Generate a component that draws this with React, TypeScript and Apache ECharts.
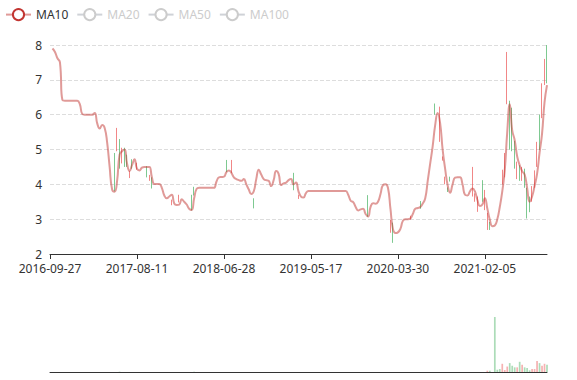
import React, { useEffect, useRef } from 'react';
import * as echarts from 'echarts';

// Dates shown under the x axis (one every 35 points)
const tickDates = ['2016-09-27', '2017-08-11', '2018-06-28', '2019-05-17', '2020-03-30', '2021-02-05'];
const pointsPerTick = 35;
const pointCount = 201;

// MA10
const ma10: (number | string)[] = [
  '-', 7.9, 7.8, 7.62, 7.5, 6.42, 6.4, 6.4, 6.4, 6.4,
  6.4, 6.4, 6.3, 6.02, 6.0, 6.0, 6.0, 6.0, 6.05, 5.75,
  5.6, 5.7, 5.62, 5.2, 4.5, 3.85, 3.79, 4.1, 4.85, 4.95,
  5.0, 4.6, 4.38, 4.55, 4.72, 4.45, 4.4, 4.48, 4.5, 4.5,
  4.5, 4.2, 4.01, 4.01, 4.01, 3.9, 3.68, 3.6, 3.65, 3.7,
  3.45, 3.41, 3.42, 3.57, 3.5, 3.42, 3.3, 3.26, 3.6, 3.87,
  3.9, 3.9, 3.9, 3.9, 3.9, 3.9, 3.9, 4.08, 4.2, 4.21,
  4.22, 4.35, 4.4, 4.33, 4.2, 4.15, 4.12, 4.1, 4.15, 4.0,
  3.85, 3.72, 3.8, 4.15, 4.42, 4.28, 4.15, 4.12, 4.1, 3.95,
  4.12, 4.38, 4.3, 3.98, 4.03, 4.05, 4.12, 4.15, 4.0, 4.05,
  3.8, 3.65, 3.62, 3.75, 3.81, 3.81, 3.81, 3.81, 3.81, 3.81,
  3.81, 3.81, 3.81, 3.81, 3.81, 3.81, 3.81, 3.81, 3.81, 3.81,
  3.7, 3.53, 3.49, 3.35, 3.25, 3.28, 3.3, 3.15, 3.08, 3.35,
  3.46, 3.44, 3.5, 3.72, 3.98, 4.0, 3.9, 3.3, 2.72, 2.6,
  2.62, 2.72, 2.95, 3.0, 3.0, 3.02, 3.15, 3.3, 3.32, 3.35,
  3.45, 3.6, 4.1, 4.6, 5.1, 5.7, 6.05, 5.75, 5.0, 4.45,
  3.98, 3.76, 4.0, 4.19, 4.2, 4.2, 4.0, 3.7, 3.68, 3.8,
  3.88, 3.8, 3.55, 3.38, 3.42, 3.6, 3.3, 2.98, 2.8, 2.82,
  3.0, 3.35, 3.8, 4.4, 5.5, 6.3, 5.55, 5.27, 4.8, 4.55,
  4.38, 4.28, 3.9, 3.5, 3.65, 3.95, 4.3, 4.9, 5.45, 6.35,
  6.85,
];

// Visible candles: [index, open, close, low, high]
const candles: number[][] = [
  [26, 4.5, 3.95, 3.8, 4.9], [27, 5.0, 5.3, 4.95, 5.62], [28, 5.2, 4.55, 4.45, 5.3],
  [29, 4.7, 4.95, 4.6, 5.05], [30, 5.0, 4.55, 4.5, 5.05], [31, 4.8, 4.55, 4.5, 4.85],
  [32, 4.2, 4.35, 4.18, 4.38], [33, 4.7, 4.5, 4.45, 4.72], [35, 4.45, 4.6, 4.42, 4.62],
  [39, 4.5, 4.25, 4.2, 4.52], [40, 4.12, 4.25, 4.1, 4.27], [41, 4.15, 3.92, 3.88, 4.2],
  [49, 3.42, 3.55, 3.4, 3.56], [52, 3.5, 3.68, 3.48, 3.7], [57, 3.65, 3.3, 3.25, 3.7],
  [58, 3.9, 3.7, 3.68, 3.93], [71, 4.45, 4.38, 4.35, 4.7], [73, 4.5, 4.7, 4.32, 4.7],
  [82, 3.55, 3.35, 3.31, 3.6], [98, 4.3, 3.85, 3.83, 4.33], [100, 3.6, 3.69, 3.58, 3.7],
  [128, 3.6, 3.1, 3.07, 3.69], [137, 2.65, 2.95, 2.61, 2.98], [138, 2.85, 2.5, 2.32, 2.9],
  [145, 3.0, 3.08, 2.99, 3.1], [149, 3.5, 3.33, 3.3, 3.52], [155, 6.3, 6.05, 6.0, 6.32],
  [157, 5.3, 6.15, 5.22, 6.23], [158, 4.7, 4.8, 4.68, 4.8], [159, 4.03, 4.22, 4.0, 4.22],
  [160, 3.9, 3.8, 3.78, 3.91], [161, 4.22, 4.1, 4.08, 4.22], [170, 3.7, 3.9, 3.65, 4.5],
  [171, 3.5, 3.74, 3.5, 3.74], [172, 3.3, 3.6, 3.21, 3.65], [174, 4.1, 3.55, 3.5, 4.12],
  [175, 3.3, 3.8, 3.26, 3.84], [176, 2.75, 3.15, 2.69, 3.18], [177, 2.9, 2.72, 2.69, 2.92],
  [182, 4.05, 4.4, 4.0, 4.42], [183, 4.3, 4.85, 4.2, 4.9], [184, 6.5, 7.45, 6.3, 7.8],
  [185, 6.35, 5.3, 5.0, 6.4], [186, 5.9, 5.0, 4.95, 6.2], [187, 5.2, 4.6, 4.45, 5.25],
  [188, 4.3, 4.6, 4.15, 4.65], [189, 4.5, 4.15, 4.1, 4.55], [190, 4.15, 4.45, 4.1, 4.5],
  [191, 4.4, 3.95, 3.9, 4.45], [192, 3.85, 3.2, 3.02, 3.9], [193, 3.6, 3.3, 3.2, 3.65],
  [194, 3.55, 3.9, 3.5, 3.95], [195, 3.95, 4.35, 3.9, 4.4], [196, 4.5, 5.15, 4.5, 5.22],
  [197, 5.95, 5.05, 4.99, 6.0], [198, 5.95, 6.85, 5.9, 6.9], [199, 6.9, 7.2, 6.85, 7.6],
  [200, 7.9, 7.2, 6.9, 8.0],
];

// Visible volumes: [index, volume]
const volumes: number[][] = [
  [28, 3], [58, 3], [176, 13], [177, 13], [179, 556], [180, 23], [181, 30], [182, 83],
  [183, 20], [184, 55], [185, 90], [186, 63], [187, 47], [188, 47], [189, 103], [190, 73],
  [191, 47], [192, 40], [193, 17], [194, 30], [195, 30], [196, 110], [197, 90], [198, 63],
  [199, 83], [200, 73],
];

const UP = '#eb5454';
const DOWN = '#47b262';

function dayNum(s: string) {
  return Date.parse(s + 'T00:00:00Z') / 86400000;
}
function fmt(n: number) {
  return new Date(n * 86400000).toISOString().slice(0, 10);
}
function buildCategories() {
  const out: string[] = [];
  for (let i = 0; i < pointCount; i++) {
    const k = Math.min(Math.floor(i / pointsPerTick), tickDates.length - 1);
    const span = k + 1 < tickDates.length
      ? dayNum(tickDates[k + 1]) - dayNum(tickDates[k])
      : dayNum(tickDates[k]) - dayNum(tickDates[k - 1]);
    out.push(fmt(dayNum(tickDates[k]) + Math.round(((i - k * pointsPerTick) * span) / pointsPerTick)));
  }
  return out;
}

export default function App() {
  const ref = useRef<HTMLDivElement>(null);
  useEffect(() => {
    if (!ref.current) return;
    const chart = echarts.init(ref.current, undefined, { renderer: 'svg' });
    const categories = buildCategories();
    const candleData: any[] = categories.map(() => '-');
    const dir: number[] = categories.map(() => -1);
    candles.forEach(([i, o, c, l, h]) => {
      candleData[i] = [o, c, l, h];
      dir[i] = c > o ? 1 : -1;
    });
    const volData: any[] = categories.map(() => '-');
    volumes.forEach(([i, v]) => {
      volData[i] = { value: v, itemStyle: { color: dir[i] > 0 ? UP : DOWN } };
    });
    const font = 'Noto Sans';
    chart.setOption({
      animation: false,
      textStyle: { fontFamily: font },
      legend: {
        data: ['MA10', 'MA20', 'MA50', 'MA100'],
        left: 0,
        top: 3,
        selected: { MA20: false, MA50: false, MA100: false },
        inactiveColor: '#ccc',
        textStyle: { color: '#333', fontSize: 12, fontFamily: font },
      },
      grid: [
        { left: 50, right: 30, top: 45, height: 209 },
        { left: 50, right: 30, top: 317, height: 55 },
      ],
      xAxis: [
        {
          type: 'category',
          data: categories,
          boundaryGap: false,
          axisLine: { lineStyle: { color: '#333' } },
          axisTick: { interval: pointsPerTick - 1, lineStyle: { color: '#333' } },
          axisLabel: {
            interval: pointsPerTick - 1,
            color: '#333',
            fontSize: 12,
            lineHeight: 12,
            fontFamily: font,
          },
          splitLine: { show: false },
        },
        {
          type: 'category',
          gridIndex: 1,
          data: categories,
          boundaryGap: false,
          axisLine: { lineStyle: { color: '#333' } },
          axisTick: { show: false },
          axisLabel: { show: false },
          splitLine: { show: false },
        },
      ],
      yAxis: [
        {
          type: 'value',
          min: 2,
          max: 8,
          interval: 1,
          axisLine: { show: false },
          axisTick: { show: false },
          axisLabel: { color: '#333', fontSize: 12, lineHeight: 12, fontFamily: font },
          splitLine: { lineStyle: { type: 'dashed', color: '#ddd' } },
        },
        {
          type: 'value',
          gridIndex: 1,
          min: 0,
          max: 'dataMax',
          axisLine: { show: false },
          axisTick: { show: false },
          axisLabel: { show: false },
          splitLine: { show: false },
        },
      ],
      series: [
        {
          name: 'K',
          type: 'candlestick',
          data: candleData,
          itemStyle: {
            color: UP,
            color0: DOWN,
            borderColor: UP,
            borderColor0: DOWN,
            opacity: 0.7,
          },
        },
        {
          name: 'MA10',
          type: 'line',
          data: ma10,
          smooth: true,
          showSymbol: false,
          color: '#c23531',
          lineStyle: { width: 2, opacity: 0.5 },
        },
        { name: 'MA20', type: 'line', data: [], showSymbol: false, color: '#2f4554' },
        { name: 'MA50', type: 'line', data: [], showSymbol: false, color: '#61a0a8' },
        { name: 'MA100', type: 'line', data: [], showSymbol: false, color: '#d48265' },
        {
          name: 'Volume',
          type: 'bar',
          xAxisIndex: 1,
          yAxisIndex: 1,
          data: volData,
          itemStyle: { opacity: 0.45 },
        },
      ],
    });
    return () => chart.dispose();
  }, []);
  return (
    <div
      ref={ref}
      style={{ position: 'absolute', left: 0, top: 0, width: 577, height: 380 }}
    />
  );
}
